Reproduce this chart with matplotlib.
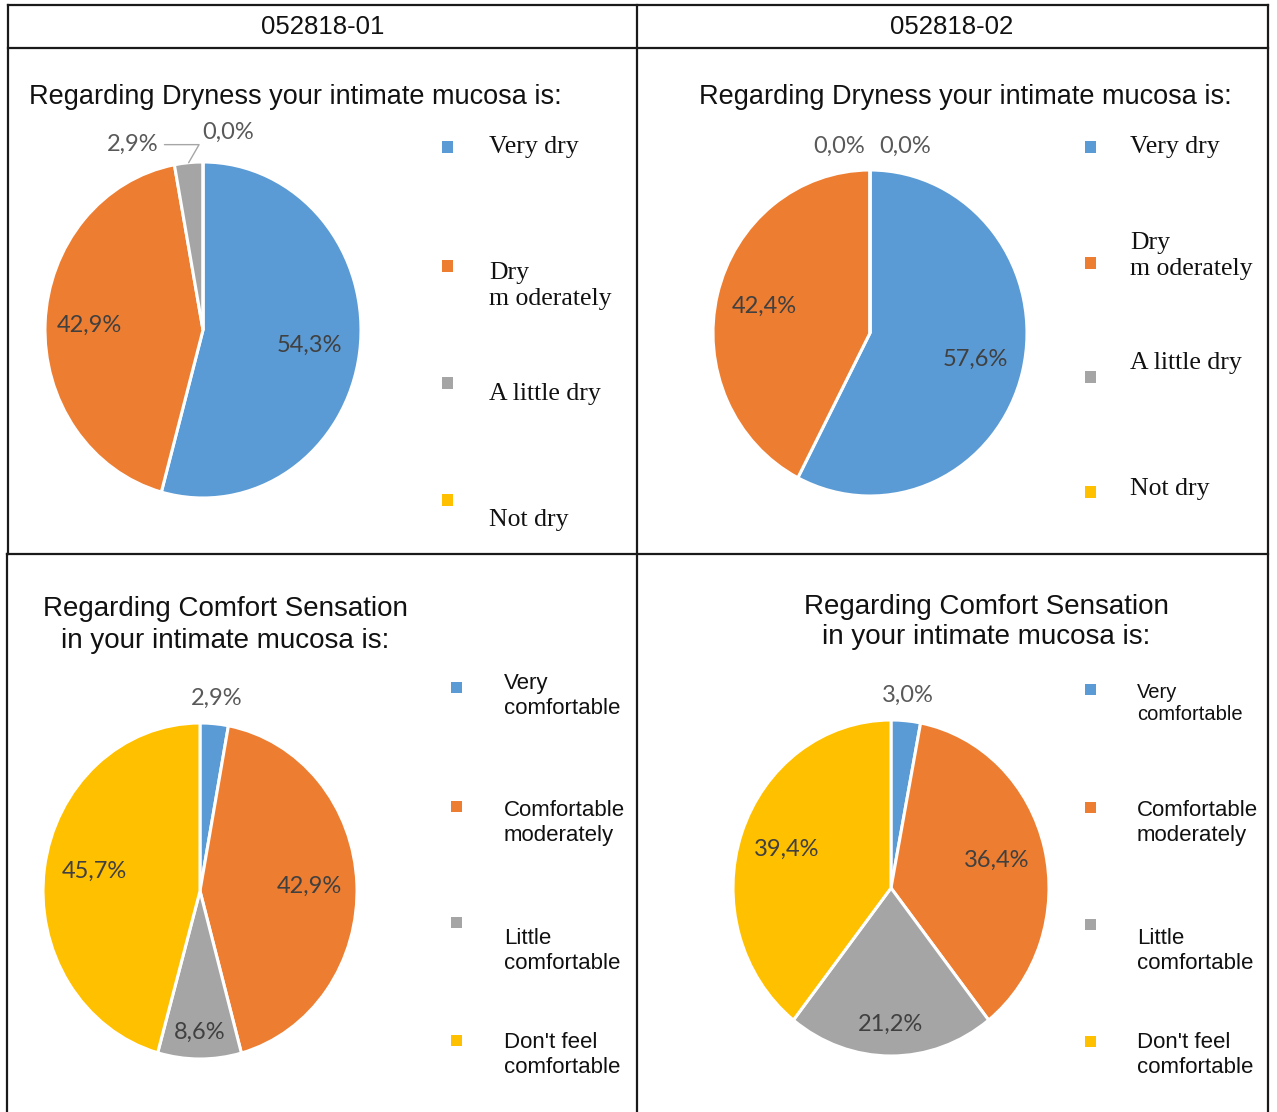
import matplotlib
matplotlib.use("Agg")
import matplotlib.pyplot as plt
import numpy as np

W, H = 1277, 1112

# ---------------- data ----------------
headers = ["052818-01", "052818-02"]
dry_title = "Regarding Dryness your intimate mucosa is:"
comfort_title = "Regarding Comfort Sensation\nin your intimate mucosa is:"
dry_categories = ["Very dry", "Dry\nm oderately", "A little dry", "Not dry"]
comfort_categories = ["Very\ncomfortable", "Comfortable\nmoderately",
                      "Little\ncomfortable", "Don't feel\ncomfortable"]
dry_01 = [54.3, 42.9, 2.9, 0.0]
dry_02 = [57.6, 42.4, 0.0, 0.0]
comfort_01 = [2.9, 42.9, 8.6, 45.7]
comfort_02 = [3.0, 36.4, 21.2, 39.4]

colors = ["#5B9BD5", "#ED7D31", "#A5A5A5", "#FFC000"]

fig = plt.figure(figsize=(W / 100, H / 100), dpi=100)
fig.patch.set_facecolor("white")


def fx(x):
    return x / W


def fy(y):
    return 1 - y / H


# ---------------- table grid ----------------
lc = "#1a1a1a"
def hline(y, x0, x1, lw=1.6):
    fig.add_artist(plt.Line2D([fx(x0), fx(x1)], [fy(y), fy(y)], color=lc, lw=lw))

def vline(x, y0, y1, lw=1.6):
    fig.add_artist(plt.Line2D([fx(x), fx(x)], [fy(y0), fy(y1)], color=lc, lw=lw))

hline(5, 8, 1268)
hline(48, 8, 1268)
hline(554, 7, 1268)
vline(8, 5, 554)
vline(7, 554, 1112)
vline(637, 5, 1112)
vline(1268, 5, 1112)

fig.text(fx(323), fy(27), headers[0], ha="center", va="center",
         fontsize=18.5, family="Liberation Sans", color="#111111")
fig.text(fx(952), fy(27), headers[1], ha="center", va="center",
         fontsize=18.5, family="Liberation Sans", color="#111111")

# ---------------- titles ----------------
fig.text(fx(295), fy(97), dry_title, ha="center", va="center", fontsize=19.5,
         family="Liberation Sans", color="#111111")
fig.text(fx(965), fy(97), dry_title, ha="center", va="center", fontsize=19.5,
         family="Liberation Sans", color="#111111")
fig.text(fx(225), fy(625), comfort_title, ha="center", va="center", fontsize=20,
         family="Liberation Sans", color="#111111", linespacing=1.25)
fig.text(fx(986), fy(622), comfort_title, ha="center", va="center", fontsize=20,
         family="Liberation Sans", color="#111111", linespacing=1.25)


# ---------------- pies ----------------
def draw_pie(values, cx, cy, rx, ry, label_specs):
    ax = fig.add_axes([fx(cx - rx), fy(cy + ry), 2 * rx / W, 2 * ry / H])
    wedges, _ = ax.pie(values, colors=colors, startangle=90, counterclock=False,
                       wedgeprops=dict(edgecolor="white", linewidth=2.2))
    ax.set_xlim(-1, 1)
    ax.set_ylim(-1, 1)
    ax.set_aspect("auto")
    ax.axis("off")
    for w, v, (r, dx, dy, col, leader) in zip(wedges, values, label_specs):
        mid = np.deg2rad((w.theta1 + w.theta2) / 2)
        txt = f"{v:.1f}%".replace(".", ",")
        if leader:
            xy = (1.0 * np.cos(mid), 1.0 * np.sin(mid))
            ax.annotate(txt, xy=xy, xytext=(dx, dy), textcoords="offset points",
                        ha="center", va="center", fontsize=17, family="Lato",
                        color=col, annotation_clip=False,
                        arrowprops=dict(arrowstyle="-", color="#A6A6A6", lw=1,
                                        shrinkA=2, shrinkB=0,
                                        connectionstyle="angle,angleA=0,angleB=60,rad=0"))
        else:
            xy = (r * np.cos(mid), r * np.sin(mid))
            ax.annotate(txt, xy=xy, xytext=(dx, dy), textcoords="offset points",
                        ha="center", va="center", fontsize=17, family="Lato",
                        color=col, annotation_clip=False)
    return ax


IN = "#404040"
OUT = "#595959"
draw_pie(dry_01, 203, 330, 158, 168,
         [(0.68, 0, 0, IN, False), (0.72, 0, 0, IN, False),
          (1.0, -40, 13, OUT, True), (1.12, 18, 6.5, OUT, False)])
draw_pie(dry_02, 870, 333, 157, 163,
         [(0.69, 0, 0, IN, False), (0.69, 0, 0, IN, False),
          (1.12, -22, 3, OUT, False), (1.12, 25, 3, OUT, False)])
draw_pie(comfort_01, 200, 891, 157, 168,
         [(1.15, 0, 0, OUT, False), (0.70, 0, 0, IN, False),
          (0.84, 0, 0, IN, False), (0.68, 0, 3, IN, False)])
draw_pie(comfort_02, 891, 888, 158, 168,
         [(1.15, 0, 0, OUT, False), (0.69, 0, 0, IN, False),
          (0.81, 0, 0, IN, False), (0.70, 0, 0, IN, False)])


# ---------------- legends ----------------
def legend(markers, text_x, text_y, labels, family, sizes, ls):
    for (mx, my), ty, lab, c, sz in zip(markers, text_y, labels, colors, sizes):
        fig.patches.append(plt.Rectangle((fx(mx - 5.5), fy(my + 5.5)), 11 / W, 11 / H,
                                         transform=fig.transFigure, facecolor=c,
                                         edgecolor="none", figure=fig))
        fig.text(fx(text_x), fy(ty), lab, ha="left", va="center", fontsize=sz,
                 family=family, color="#111111", linespacing=ls)


legend([(447, 147), (447, 266), (447, 383), (447, 500)], 489,
       [147, 286, 394, 520], dry_categories, "Liberation Serif", [18.5] * 4, 1.2)
legend([(1090, 147), (1090, 263), (1090, 377), (1090, 492)], 1130,
       [147, 256, 363, 489], dry_categories, "Liberation Serif", [18.5] * 4, 1.2)
legend([(456, 687), (456, 806), (456, 922), (456, 1040)], 504,
       [696, 823, 951, 1055], comfort_categories, "Liberation Sans", [16] * 4, 1.2)
legend([(1090, 689), (1090, 807), (1090, 924), (1090, 1041)], 1137,
       [704, 823, 951, 1055], comfort_categories, "Liberation Sans",
       [14.5, 16, 16, 16], 1.2)

fig.savefig("out.png", dpi=100, facecolor="white")
